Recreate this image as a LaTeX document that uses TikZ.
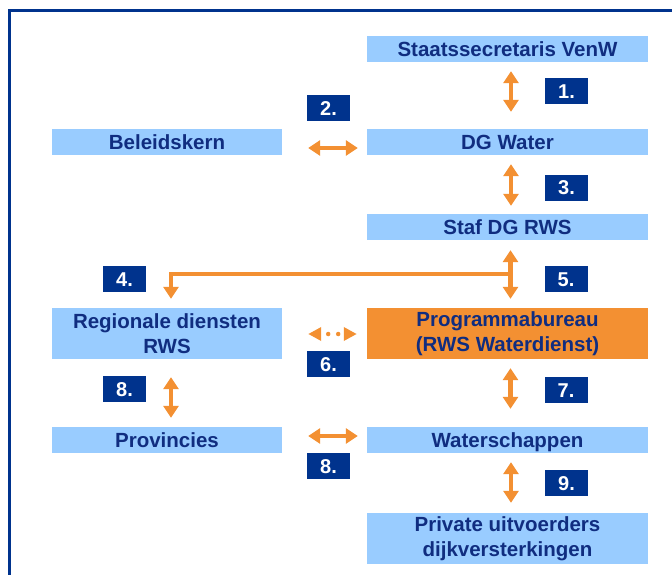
\documentclass[tikz,border=0pt]{standalone}
\usepackage{fontspec}
\setmainfont{Liberation Sans}
\usetikzlibrary{arrows.meta}

\definecolor{rwsblue}{RGB}{153,204,255}
\definecolor{rwsnavy}{RGB}{0,51,141}
\definecolor{rwsink}{RGB}{16,45,128}
\definecolor{rwsorange}{RGB}{243,144,50}

\begin{document}
\begin{tikzpicture}[x=1pt,y=-1pt,
  box/.style={fill=rwsblue,text=rwsink,align=center,inner sep=0pt,
    font=\bfseries\fontsize{20.5}{25}\selectfont,minimum height=26pt},
  oneline/.style={text height=15pt,text depth=0pt},
  widebox/.style={box,minimum width=281pt},
  smallbox/.style={box,minimum width=230pt},
  tag/.style={fill=rwsnavy,text=white,inner sep=0pt,
    font=\bfseries\fontsize{20}{24}\selectfont,
    minimum width=43pt,minimum height=26pt,text height=14.5pt,text depth=0pt},
  link/.style={draw=rwsorange,line width=4.5pt},
  dbl/.style={link,{Triangle[length=12pt,width=15pt]}-{Triangle[length=12pt,width=15pt]}},
  tip/.style={link,-{Triangle[length=12pt,width=15pt]}},
  headsonly/.style={link,dash pattern=on 0pt off 100pt,
    {Triangle[length=13pt,width=13pt]}-{Triangle[length=13pt,width=13pt]}},
  dots/.style={draw=rwsorange,line width=4.5pt,line cap=round,dash pattern=on 0pt off 10pt}
]
  \useasboundingbox (0,0) rectangle (672,575);
  \fill[white] (0,0) rectangle (672,575);

  % frame
  \draw[rwsnavy,line width=3pt] (9.5,575) -- (9.5,10.5) -- (672,10.5);

  % boxes
  \node[widebox,oneline] (staats) at (507.5,49) {Staatssecretaris VenW};
  \node[widebox,oneline] (dgwater) at (507.5,142) {DG Water};
  \node[smallbox,oneline] (beleid) at (167,142) {Beleidskern};
  \node[widebox,oneline] (staf) at (507.5,227) {Staf DG RWS};
  \node[smallbox,minimum height=51pt] (regio) at (167,333.5) {Regionale diensten\\RWS};
  \node[widebox,fill=rwsorange,minimum height=51pt] (prog) at (507.5,333.5) {Programmabureau\\(RWS Waterdienst)};
  \node[smallbox,oneline] (prov) at (167,440) {Provincies};
  \node[widebox,oneline] (water) at (507.5,440) {Waterschappen};
  \node[widebox,minimum height=51pt] (private) at (507.5,538.5) {Private uitvoerders\\dijkversterkingen};

  % numbers
  \node[tag] (t1) at (566.5,91) {1.};
  \node[tag] (t2) at (328.5,108) {2.};
  \node[tag] (t3) at (566.5,187.5) {3.};
  \node[tag] (t4) at (124.5,279) {4.};
  \node[tag] (t5) at (566,279) {5.};
  \node[tag] (t6) at (328.5,364) {6.};
  \node[tag] (t7) at (566,390) {7.};
  \node[tag] (t8a) at (124.5,389) {8.};
  \node[tag] (t8b) at (328.5,466) {8.};
  \node[tag] (t9) at (566.5,483) {9.};

  % connectors
  \draw[dbl] ([xshift=3.5pt,yshift=-9pt]staats.south) -- ([xshift=3.5pt,yshift=17pt]dgwater.north);
  \draw[dbl] ([xshift=26pt,yshift=-6pt]beleid.east) -- ([xshift=-9pt,yshift=-6pt]dgwater.west);
  \draw[dbl] ([xshift=3.5pt,yshift=-9pt]dgwater.south) -- ([xshift=3.5pt,yshift=8pt]staf.north);
  \draw[dbl] ([xshift=3pt,yshift=-10pt]staf.south) -- ([xshift=3pt,yshift=9pt]prog.north);
  \coordinate (split) at (510.5,274);
  \draw[tip] (split) -| ([xshift=4pt,yshift=9pt]regio.north);
  \draw[headsonly] ([xshift=26pt,yshift=-0.5pt]regio.east) -- ([xshift=-10pt,yshift=-0.5pt]prog.west);
  \draw[dots] ([xshift=46pt,yshift=-0.5pt]regio.east) -- ([xshift=56.5pt,yshift=-0.5pt]regio.east);
  \draw[dbl] ([xshift=3pt,yshift=-9pt]prog.south) -- ([xshift=3pt,yshift=18pt]water.north);
  \draw[dbl] ([xshift=4pt,yshift=-18pt]regio.south) -- ([xshift=4pt,yshift=9pt]prov.north);
  \draw[dbl] ([xshift=26pt,yshift=4pt]prov.east) -- ([xshift=-9pt,yshift=4pt]water.west);
  \draw[dbl] ([xshift=3.5pt,yshift=-9pt]water.south) -- ([xshift=3.5pt,yshift=10pt]private.north);
\end{tikzpicture}
\end{document}
